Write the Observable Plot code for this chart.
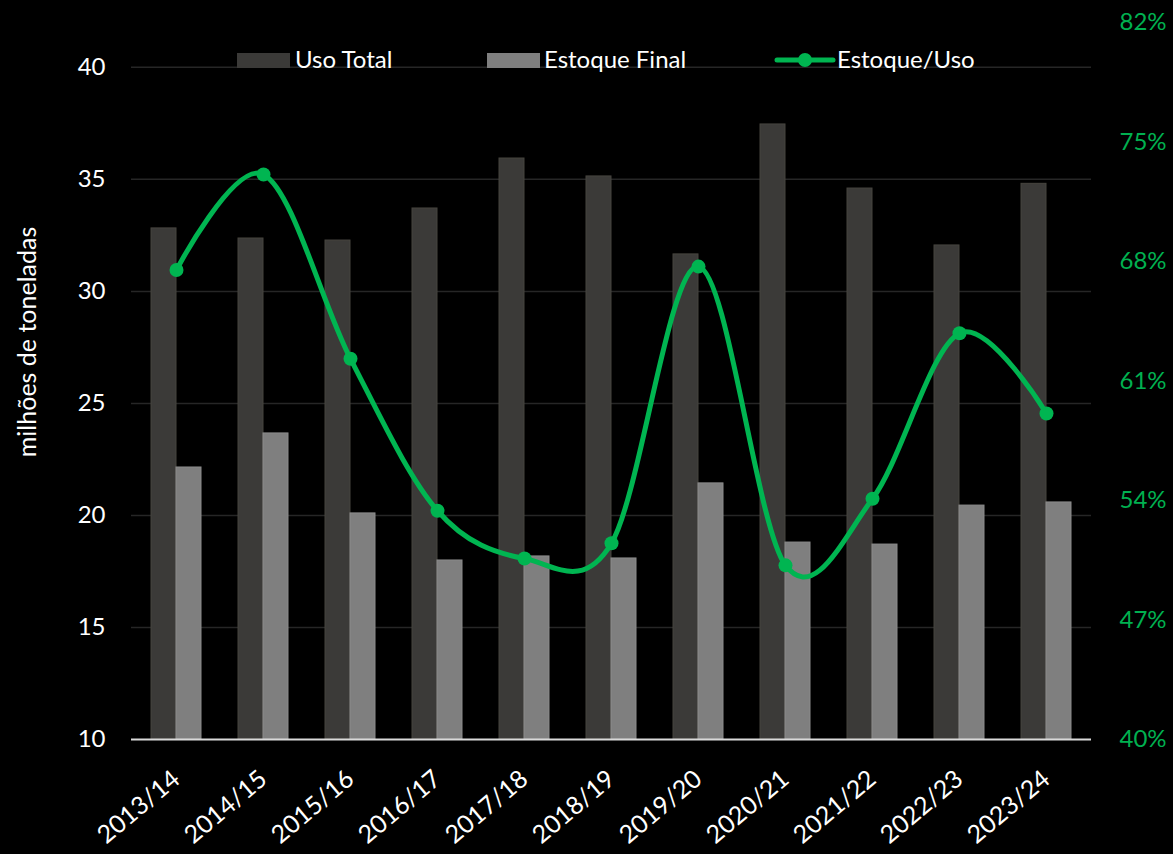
<!DOCTYPE html>
<html>
<head>
<meta charset="utf-8">
<script src="https://cdn.jsdelivr.net/npm/d3@7"></script>
<script src="https://cdn.jsdelivr.net/npm/@observablehq/plot@0.6"></script>
<style>
  html, body { margin: 0; padding: 0; background: #000; }
  #wrap { position: relative; width: 1173px; height: 854px; overflow: hidden; background: #000; font-family: Lato, "Open Sans", sans-serif; color: #fff; }
  #chart { position: absolute; left: 0; top: 0; }
  .lg { position: absolute; font-size: 24px; line-height: 24px; white-space: nowrap; color: #fff; }
  .sw { position: absolute; height: 15px; width: 53px; }
  #ytitle { position: absolute; left: 26px; top: 342px; transform: translate(-50%, -50%) rotate(-90deg); font-size: 25px; white-space: nowrap; color: #fff; line-height: 25px; }
</style>
</head>
<body>
<div id="wrap">
  <div id="chart"></div>
  <div class="sw" style="left:237px;top:53px;background:#3b3a38;"></div>
  <div class="lg" style="left:295px;top:47px;">Uso Total</div>
  <div class="sw" style="left:487px;top:53px;background:#7f7f7f;"></div>
  <div class="lg" style="left:544px;top:47px;">Estoque Final</div>
  <svg style="position:absolute;left:770px;top:50px;" width="70" height="20">
    <line x1="7" y1="10" x2="63" y2="10" stroke="#00B551" stroke-width="5" stroke-linecap="round"></line>
    <circle cx="35" cy="10" r="7" fill="#00B551"></circle>
  </svg>
  <div class="lg" style="left:837px;top:47px;">Estoque/Uso</div>
  <div id="ytitle">milhões de toneladas</div>
</div>
<script>
// Data
const safras = ["2013/14","2014/15","2015/16","2016/17","2017/18","2018/19","2019/20","2020/21","2021/22","2022/23","2023/24"];
const usoTotal = [32.81, 32.36, 32.27, 33.70, 35.93, 35.13, 31.65, 37.45, 34.59, 32.05, 34.80];
const estoqueFinal = [22.14, 23.66, 20.09, 17.99, 18.17, 18.08, 21.43, 18.79, 18.70, 20.44, 20.58];
const estoqueUso = [67.5, 73.1, 62.3, 53.4, 50.6, 51.5, 67.7, 50.2, 54.1, 63.8, 59.1]; // %
const leftTicks = [10, 15, 20, 25, 30, 35, 40];
const rightTicks = [40, 47, 54, 61, 68, 75, 82]; // %

// secondary axis: 40%–82% mapped onto primary 10–42
const leftDomain = [10, 42];
const rightDomain = [40, 82];
const toLeft = p => leftDomain[0] + (p - rightDomain[0]) * (leftDomain[1] - leftDomain[0]) / (rightDomain[1] - rightDomain[0]);
const toRight = v => rightDomain[0] + (v - leftDomain[0]) * (rightDomain[1] - rightDomain[0]) / (leftDomain[1] - leftDomain[0]);

const data = safras.map((s, i) => ({ safra: s, uso: usoTotal[i], est: estoqueFinal[i], ratio: estoqueUso[i] }));

const green = "#00B551";

const chart = Plot.plot({
  width: 1173,
  height: 854,
  marginLeft: 131,
  marginRight: 82,
  marginTop: 22,
  marginBottom: 115,
  style: { background: "#000", color: "#fff", fontFamily: "Lato, 'Open Sans', sans-serif" },
  x: { type: "band", domain: safras, paddingInner: 0.427, paddingOuter: 0.2135 },
  y: { domain: leftDomain },
  marks: [
    Plot.gridY(leftTicks.slice(1), { stroke: "#262626", strokeOpacity: 1, strokeWidth: 1.5 }),
    Plot.barY(data, { x: "safra", y1: d => leftDomain[0], y2: "uso", fill: "#3b3a38", stroke: "#47453f", strokeWidth: 1, insetRight: 25 }),
    Plot.barY(data, { x: "safra", y1: d => leftDomain[0], y2: "est", fill: "#7f7f7f", stroke: "#8c8c8c", strokeWidth: 1, insetLeft: 25 }),
    Plot.ruleY([leftDomain[0]], { stroke: "#d9d9d9", strokeWidth: 2 }),
    Plot.line(data, { x: "safra", y: d => toLeft(d.ratio), stroke: green, strokeWidth: 5, curve: "cardinal", tension: 0 }),
    Plot.dot(data, { x: "safra", y: d => toLeft(d.ratio), r: 7, fill: green, stroke: "none" }),
    Plot.axisY(leftTicks, { anchor: "left", tickSize: 0, tickPadding: 26, fontSize: 24, label: null, fill: "#fff" }),
    Plot.axisY(rightTicks.map(toLeft), { anchor: "right", tickSize: 0, tickPadding: 28, fontSize: 24, label: null, fill: "#00B050", tickFormat: v => Math.round(toRight(v)) + "%" }),
    Plot.axisX({ tickSize: 0, tickPadding: 36, tickRotate: -40, fontSize: 25, label: null, fill: "#fff" })
  ]
});
document.getElementById("chart").appendChild(chart);
</script>
</body>
</html>
